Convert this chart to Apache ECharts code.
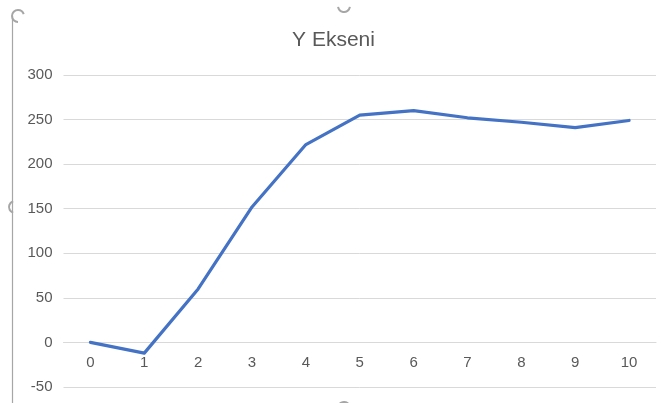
<!DOCTYPE html>
<html>
<head>
<meta charset="utf-8">
<style>
  html, body { margin: 0; padding: 0; background: #ffffff; }
  #chart { width: 667px; height: 403px; }
</style>
<script src="https://cdn.jsdelivr.net/npm/echarts@6/dist/echarts.min.js"></script>
</head>
<body>
<div id="chart"></div>
<script>
// X values (categories) and measured Y values
const categories = ['0', '1', '2', '3', '4', '5', '6', '7', '8', '9', '10'];
const yValues = [0, -12, 60, 152, 222, 255, 260, 252, 247, 241, 249];
const chartTitle = 'Y Ekseni';
const yMin = -50;
const yMax = 300;
const yStep = 50;

const textGrey = '#595959';
const gridGrey = '#d9d9d9';
const frameGrey = '#a6a6a6';
const font = 'Liberation Sans';

const gridTop = 75;
const gridBottom = 16;
const chartHeight = 403;
const plotHeight = chartHeight - gridTop - gridBottom;
// lift the category axis so it sits on the y = 0 line
const zeroLift = plotHeight * (0 - yMin) / (yMax - yMin);

const chart = echarts.init(document.getElementById('chart'), null, { renderer: 'canvas' });

chart.setOption({
  animation: false,
  backgroundColor: '#ffffff',
  title: {
    text: chartTitle,
    left: 'center',
    top: 25,
    textStyle: { fontFamily: font, fontSize: 21, fontWeight: 'normal', color: textGrey }
  },
  grid: { left: 63.5, right: 11, top: gridTop, bottom: gridBottom, containLabel: false, outerBoundsMode: 'none' },
  xAxis: {
    type: 'category',
    data: categories,
    boundaryGap: true,
    offset: -zeroLift,
    axisLine: { show: true, onZero: false, lineStyle: { color: gridGrey, width: 1 } },
    axisTick: { show: false },
    axisLabel: { color: textGrey, fontFamily: font, fontSize: 15, margin: 13 },
    splitLine: { show: false }
  },
  yAxis: {
    type: 'value',
    min: yMin,
    max: yMax,
    interval: yStep,
    axisLine: { show: false },
    axisTick: { show: false },
    axisLabel: { color: textGrey, fontFamily: font, fontSize: 15, margin: 11 },
    splitLine: { show: true, lineStyle: { color: gridGrey, width: 1 } }
  },
  series: [{
    type: 'line',
    data: yValues,
    symbol: 'none',
    smooth: false,
    z: 3,
    lineStyle: { color: '#4472c4', width: 3.2, join: 'round', cap: 'round' }
  }],
  graphic: [
    // chart area frame (left edge) and selection handles
    { type: 'line', shape: { x1: 12.5, y1: 16, x2: 12.5, y2: 403 },
      style: { stroke: frameGrey, lineWidth: 1.2 }, silent: true },
    { type: 'arc', shape: { cx: 18, cy: 16, r: 6, startAngle: Math.PI * 0.5, endAngle: Math.PI * 1.9 },
      style: { stroke: frameGrey, lineWidth: 2, fill: null }, silent: true },
    { type: 'arc', shape: { cx: 344, cy: 6, r: 6, startAngle: Math.PI * 0.05, endAngle: Math.PI * 0.95 },
      style: { stroke: frameGrey, lineWidth: 2, fill: null }, silent: true },
    { type: 'arc', shape: { cx: 15, cy: 207, r: 6, startAngle: Math.PI * 0.6, endAngle: Math.PI * 1.4 },
      style: { stroke: frameGrey, lineWidth: 2, fill: null }, silent: true },
    { type: 'arc', shape: { cx: 344, cy: 408, r: 6, startAngle: Math.PI * 1.1, endAngle: Math.PI * 1.9 },
      style: { stroke: frameGrey, lineWidth: 2, fill: null }, silent: true }
  ]
});
</script>
</body>
</html>
